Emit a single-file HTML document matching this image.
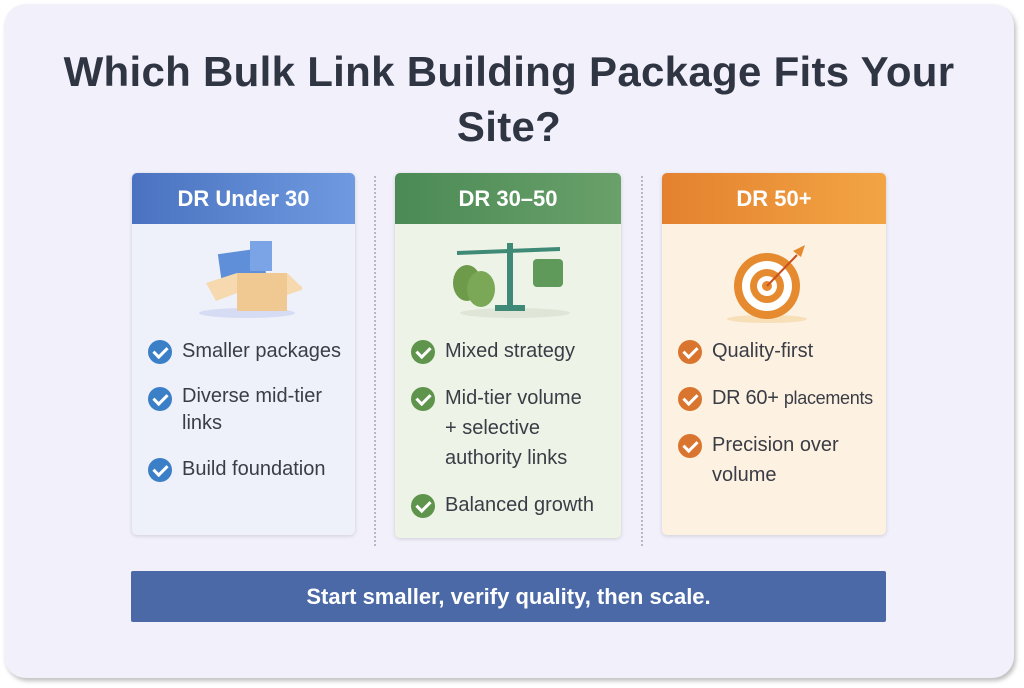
<!DOCTYPE html>
<html><head><meta charset="utf-8"><style>
*{margin:0;padding:0;box-sizing:border-box}
body{width:1024px;height:688px;background:#fff;font-family:"Liberation Sans",sans-serif;position:relative;overflow:hidden}
.frame{position:absolute;left:4px;top:4px;width:1010px;height:674px;background:#f2f1fb;border-radius:22px;box-shadow:2px 3px 4px rgba(0,0,0,.25)}
h1{position:absolute;left:0;width:1018px;top:44px;text-align:center;font-size:42px;line-height:55px;font-weight:bold;color:#2f3542;letter-spacing:.3px}
.card{position:absolute;top:173px;border-radius:5px;box-shadow:0 1px 4px rgba(0,0,0,.15);overflow:hidden}
.hd{height:51px;color:#fff;font-weight:bold;font-size:22px;text-align:center;line-height:52px}
.list{position:absolute;left:16px;right:2px;font-size:20px;color:#3a3d45}
.it{position:relative;padding-left:34px;line-height:30px;margin-bottom:17px}
.it i{position:absolute;left:0;top:4px;width:24px;height:24px;border-radius:50%;}
.it i:after{content:"";position:absolute;left:8px;top:4px;width:6px;height:11px;border:solid #fff;border-width:0 3px 3px 0;transform:rotate(45deg)}
.div{position:absolute;top:176px;height:370px;border-left:2px dotted #b8b8c4}
.banner{position:absolute;left:131px;top:571px;width:755px;height:51px;background:#4a69a6;color:#fff;font-weight:bold;font-size:22px;text-align:center;line-height:51px;border-radius:2px}
</style></head><body>
<div class="frame"></div>
<h1>Which Bulk Link Building Package Fits Your<br>Site?</h1>
<div class="div" style="left:374px"></div>
<div class="div" style="left:641px"></div>

<div class="card" style="left:132px;width:223px;height:362px;background:#eef1fa">
<div class="hd" style="background:linear-gradient(90deg,#4a72c0,#6f9ae0)">DR Under 30</div>
<svg style="position:absolute;left:60px;top:58px" width="110" height="90">
<ellipse cx="55" cy="82" rx="48" ry="5" fill="#d5dcf3"/>
<rect x="28" y="20" width="45" height="35" fill="#5f8fd8" transform="rotate(-8 50 37)"/>
<rect x="58" y="10" width="22" height="30" fill="#7aa4e6"/>
<rect x="45" y="42" width="50" height="38" fill="#efc892"/>
<polygon points="14,52 45,42 45,62 24,70" fill="#f6d9ae"/>
<polygon points="95,42 112,58 95,64" fill="#f6d9ae"/>
</svg>
<div class="list" style="top:163px">
<div class="it"><i style="background:#3b7fc7"></i>Smaller packages</div>
<div class="it" style="line-height:27px"><i style="background:#3b7fc7"></i>Diverse mid-tier<br>links</div>
<div class="it"><i style="background:#3b7fc7"></i>Build foundation</div>
</div></div>

<div class="card" style="left:395px;width:226px;height:365px;background:#eef3e8">
<div class="hd" style="background:linear-gradient(90deg,#4b8a55,#6aa06a)">DR 30–50</div>
<svg style="position:absolute;left:50px;top:58px" width="130" height="90">
<ellipse cx="70" cy="82" rx="55" ry="5" fill="#dfe6d8"/>
<rect x="62" y="12" width="6" height="65" fill="#3f8a76"/><rect x="50" y="74" width="30" height="6" fill="#3f8a76"/>
<line x1="12" y1="22" x2="115" y2="18" stroke="#3f8a76" stroke-width="4"/>
<ellipse cx="22" cy="52" rx="14" ry="18" fill="#6d9b4a"/><ellipse cx="36" cy="58" rx="14" ry="18" fill="#7aa857"/>
<rect x="88" y="28" width="30" height="28" rx="4" fill="#5f9a5a"/>
</svg>
<div class="list" style="top:163px">
<div class="it"><i style="background:#5f944c"></i>Mixed strategy</div>
<div class="it"><i style="background:#5f944c"></i>Mid-tier volume<br>+ selective<br>authority links</div>
<div class="it"><i style="background:#5f944c"></i>Balanced growth</div>
</div></div>

<div class="card" style="left:662px;width:224px;height:362px;background:#fdf1e2">
<div class="hd" style="background:linear-gradient(90deg,#e4812f,#f2a544)">DR 50+</div>
<svg style="position:absolute;left:55px;top:58px" width="110" height="95">
<ellipse cx="50" cy="88" rx="40" ry="4" fill="#f7dfb8"/>
<circle cx="50" cy="55" r="33" fill="#e58a2e"/><circle cx="50" cy="55" r="25" fill="#fff"/>
<circle cx="50" cy="55" r="17" fill="#e58a2e"/><circle cx="50" cy="55" r="10" fill="#fff"/><circle cx="50" cy="55" r="5" fill="#e58a2e"/>
<line x1="50" y1="55" x2="80" y2="24" stroke="#c9501c" stroke-width="2"/>
<polygon points="76,20 88,14 84,26" fill="#e58a2e"/>
</svg>
<div class="list" style="top:163px">
<div class="it"><i style="background:#d9752e"></i>Quality-first</div>
<div class="it" style="letter-spacing:-.3px"><i style="background:#d9752e"></i>DR 60+ <span style="font-size:18px">placements</span></div>
<div class="it"><i style="background:#d9752e"></i>Precision over<br>volume</div>
</div></div>

<div class="banner">Start smaller, verify quality, then scale.</div>
</body></html>
